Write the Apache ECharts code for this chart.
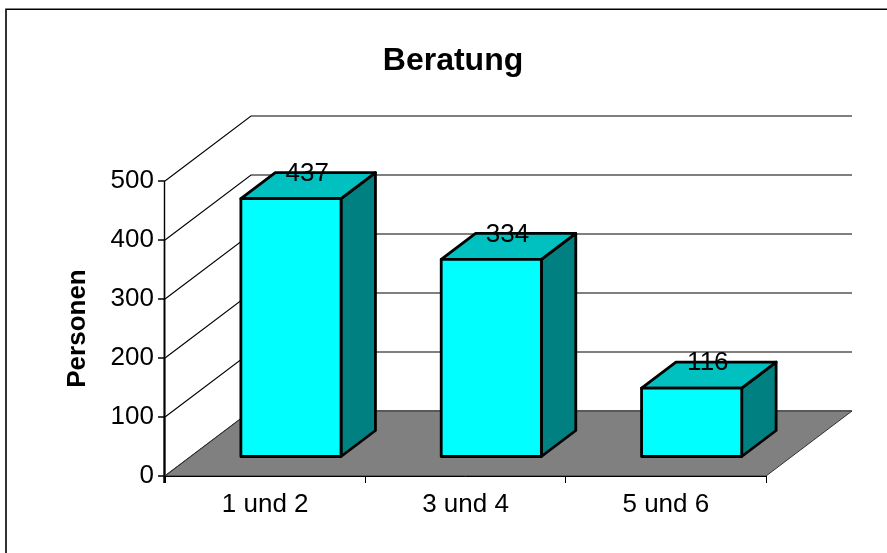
<!DOCTYPE html>
<html>
<head>
<meta charset="utf-8">
<style>
  html, body { margin: 0; padding: 0; background: #fff; }
  #main { width: 887px; height: 553px; }
</style>
<script src="https://cdn.jsdelivr.net/npm/echarts@6/dist/echarts.min.js"></script>
</head>
<body>
<div id="main"></div>
<script>
var categories = ['1 und 2', '3 und 4', '5 und 6']
var personen = [437, 334, 116]
var yTicks = [0, 100, 200, 300, 400, 500]

// 3D look: how far the back wall is shifted from the front plane
var DEPTH_X = 86
var DEPTH_Y = 65
// bars stand a little way into the floor
var BAR_SHIFT = 0.3
var BAR_DEPTH = 0.4
var FONT = '"Liberation Sans", Arial, sans-serif'

var chart = echarts.init(document.getElementById('main'))

function renderFloor(params, api) {
  var a = api.coord([0, 0])
  var left = params.coordSys.x
  var right = left + params.coordSys.width
  var y = a[1]
  return {
    type: 'polygon',
    shape: { points: [[left, y], [right, y], [right + DEPTH_X, y - DEPTH_Y], [left + DEPTH_X, y - DEPTH_Y]] },
    style: { fill: '#808080', stroke: '#333', lineWidth: 1 }
  }
}

function renderWall(params, api) {
  var y = api.coord([0, api.value(0)])[1]
  var y0 = api.coord([0, 0])[1]
  var left = params.coordSys.x
  var right = left + params.coordSys.width
  return {
    type: 'group',
    children: [
      {
        type: 'polyline',
        shape: { points: [[left, y], [left + DEPTH_X, y - DEPTH_Y], [right + DEPTH_X, y - DEPTH_Y]] },
        style: { fill: null, stroke: '#000', lineWidth: 1.1 }
      },
      // y axis tick, plus the axis line from this tick down to zero
      {
        type: 'polyline',
        shape: { points: [[left - 7, y], [left - 0.5, y], [left - 0.5, y0 + 7]] },
        style: { fill: null, stroke: '#000', lineWidth: 1.4 }
      }
    ]
  }
}

function renderBar(params, api) {
  var c = api.coord([api.value(0), api.value(1)])
  var base = api.coord([api.value(0), 0])
  var w = api.size([1, 0])[0] / 2
  var sx = DEPTH_X * BAR_SHIFT
  var sy = DEPTH_Y * BAR_SHIFT
  var x0 = c[0] - w / 2 + sx
  var x1 = x0 + w
  var top = c[1] - sy
  var bot = base[1] - sy
  var dx = DEPTH_X * BAR_DEPTH
  var dy = DEPTH_Y * BAR_DEPTH
  var line = { stroke: '#000', lineWidth: 2.8, lineJoin: 'round' }
  return {
    type: 'group',
    children: [
      {
        type: 'polygon',
        shape: { points: [[x1, top], [x1 + dx, top - dy], [x1 + dx, bot - dy], [x1, bot]] },
        style: Object.assign({ fill: '#008080' }, line)
      },
      {
        type: 'polygon',
        shape: { points: [[x0, top], [x0 + dx, top - dy], [x1 + dx, top - dy], [x1, top]] },
        style: Object.assign({ fill: '#00c0c0' }, line)
      },
      {
        type: 'rect',
        shape: { x: x0, y: top, width: w, height: bot - top },
        style: Object.assign({ fill: '#00ffff' }, line)
      },
      {
        type: 'text',
        style: {
          x: (x0 + x1) / 2 + dx / 2 - 1,
          y: top - dy + 1,
          text: String(api.value(1)),
          fill: '#000',
          font: '26px ' + FONT,
          align: 'center',
          verticalAlign: 'middle'
        }
      }
    ]
  }
}

chart.setOption({
  animation: false,
  backgroundColor: '#fff',
  title: {
    text: 'Beratung',
    left: 448,
    top: 40,
    textAlign: 'center',
    textStyle: { fontFamily: FONT, fontSize: 32, fontWeight: 'bold', color: '#000' }
  },
  // chart frame, only its top and left edges are visible
  graphic: [{
    type: 'polyline',
    silent: true,
    shape: { points: [[6, 560], [6, 9.25], [895, 9.25]] },
    style: { fill: null, stroke: '#000', lineWidth: 1.6 }
  }],
  grid: { left: 165, right: 121, top: 181, bottom: 77 },
  xAxis: {
    type: 'category',
    data: categories,
    z: 10,
    axisLine: { show: true, onZero: false, lineStyle: { color: '#000', width: 1 } },
    axisTick: { show: true, length: 7, lineStyle: { color: '#000', width: 1 } },
    axisLabel: { color: '#000', fontFamily: FONT, fontSize: 26, margin: 16 }
  },
  yAxis: {
    type: 'value',
    min: 0,
    max: 500,
    interval: 100,
    name: 'Personen',
    nameLocation: 'middle',
    nameGap: 74,
    nameTextStyle: { color: '#000', fontFamily: FONT, fontSize: 26, fontWeight: 'bold' },
    splitLine: { show: false },
    axisLine: { show: false },
    axisTick: { show: false },
    axisLabel: { color: '#000', fontFamily: FONT, fontSize: 26, margin: 11 }
  },
  series: [
    { type: 'custom', coordinateSystem: 'cartesian2d', data: yTicks.map(function (t) { return [t] }), renderItem: renderWall, encode: { y: 0 }, silent: true, z: 1 },
    { type: 'custom', coordinateSystem: 'cartesian2d', data: [[0]], renderItem: renderFloor, encode: { y: 0 }, silent: true, z: 2 },
    {
      type: 'custom',
      coordinateSystem: 'cartesian2d',
      data: personen.map(function (v, i) { return [i, v] }),
      renderItem: renderBar,
      encode: { x: 0, y: 1 },
      clip: false,
      silent: true,
      z: 3
    }
  ]
})
</script>
</body>
</html>
